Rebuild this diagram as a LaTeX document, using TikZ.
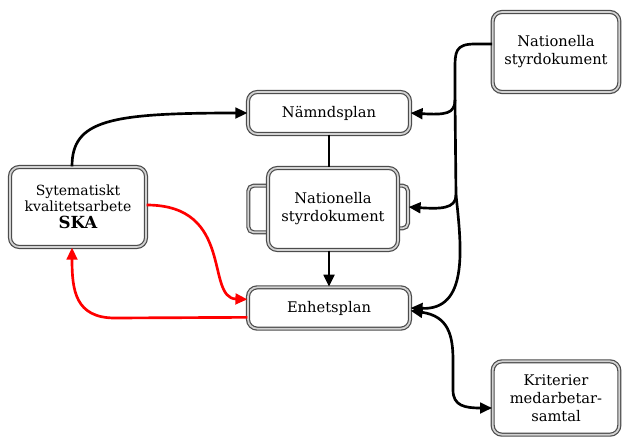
\documentclass[tikz,border=0pt]{standalone}
\usepackage{fontspec}
\setmainfont{DejaVu Serif}
\usetikzlibrary{arrows.meta,calc}
\begin{document}
\begin{tikzpicture}[x=0.75pt,y=-0.75pt,
  box/.style={draw=gray!60!black, double=gray!35, double distance=1.3pt, line width=0.9pt,
    rounded corners=7pt, fill=white, align=center, font=\fontsize{11}{13.5}\selectfont, inner sep=2pt},
  tab/.style={draw=gray!60!black, double=gray!35, double distance=1.3pt, line width=0.9pt,
    rounded corners=4pt, fill=white, inner sep=0pt},
  conn/.style={line width=2pt, black, -{Triangle[length=9pt,width=8pt]}},
  plain/.style={line width=2pt, black},
  redconn/.style={line width=2pt, red, -{Triangle[length=9pt,width=8pt]}},
  dconn/.style={line width=2pt, black, {Triangle[length=9pt,width=8pt]}-{Triangle[length=9pt,width=8pt]}}
]
\useasboundingbox (0,0) rectangle (625,439);
\fill[white] (0,0) rectangle (625,439);

% nodes
\node[box, minimum width=102pt, minimum height=60pt, font=\fontsize{10.5}{12}\selectfont] (ska) at (78,207)
  {Sytematiskt\\kvalitetsarbete\\[1pt]{\fontsize{12.5}{14}\selectfont\bfseries SKA}};
\node[box, minimum width=121.5pt, minimum height=31.5pt] (nam) at (329,113) {Nämndsplan};
\node[tab, minimum width=22pt, minimum height=35pt] (midL) at (263,209) {};
\node[tab, minimum width=15pt, minimum height=32pt] (midR) at (398,207) {};
\node[box, minimum width=97.5pt, minimum height=61.5pt] (mid) at (333,209) {Nationella\\styrdokument};
\node[box, minimum width=121.5pt, minimum height=31pt] (enh) at (329,308) {Enhetsplan};
\node[box, minimum width=95pt, minimum height=60pt] (nat) at (556,52) {Nationella\\styrdokument};
\node[box, minimum width=95pt, minimum height=55pt] (krit) at (556,398) {Kriterier\\medarbetar-\\samtal};

% trunk coordinates
\coordinate (t1) at (455,100);
\coordinate (t2) at (456,195);

% black connectors
\draw[conn] ([xshift=-4.5pt]ska.north) .. controls (72,120) and (110,113) .. (nam.west);
\draw[plain] (nam.south) -- (nam.south |- mid.north);
\draw[conn] (nam.south |- mid.south) -- (enh.north);

% red connectors
\draw[redconn] ([yshift=1.5pt]ska.east) .. controls (235,205) and (205,298) .. ([yshift=6.5pt]enh.west);
\draw[redconn] ([yshift=-7pt]enh.west) -- (115,318) .. controls (75,318) and (72,290) .. ([xshift=-4.5pt]ska.south);

% trunk from top-right Nationella
\draw[plain] ([yshift=6pt]nat.west) -- (475,44) .. controls (455,44) and (455,52) .. (455,70) -- (t1);
\draw[conn] (t1) .. controls (455,114) and (445,115) .. (nam.east);
\draw[plain] (t1) -- (t2);
\draw[conn] (t2) .. controls (456,209) and (440,209) .. (midR.east);
\draw[conn] (t2) .. controls (462,250) and (468,310) .. (enh.east);

% double arrow to Kriterier
\draw[dconn] ([yshift=-2pt]enh.east) .. controls (448,316) and (453,335) .. (453,360) -- (453,390)
  .. controls (453,406) and (465,408) .. ([yshift=-7.5pt]krit.west);
\end{tikzpicture}
\end{document}
